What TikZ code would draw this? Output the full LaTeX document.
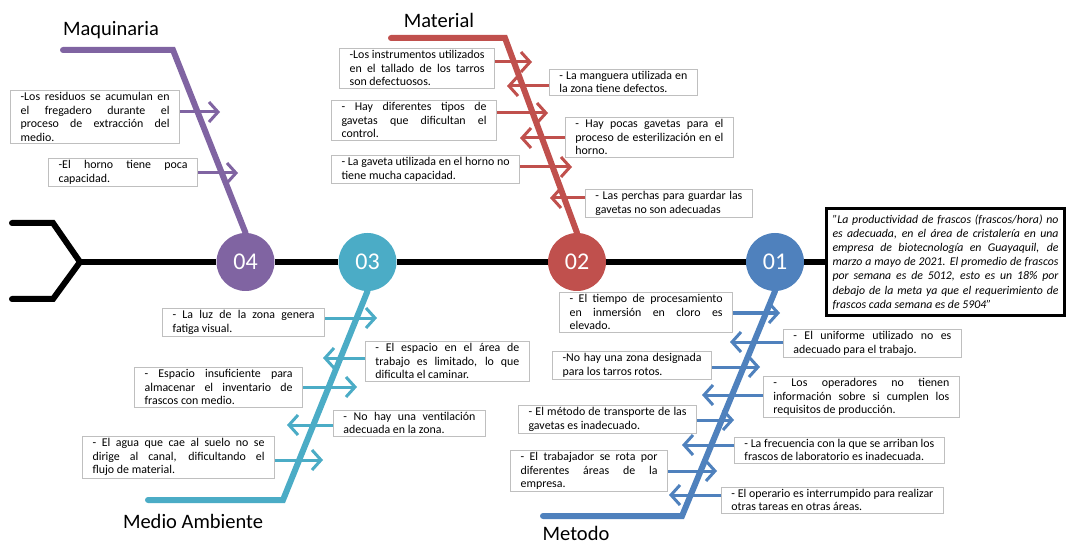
\documentclass[tikz,border=0pt]{standalone}
\usepackage{fontspec}
\setmainfont{Carlito}
\usetikzlibrary{arrows.meta}
\hyphenpenalty=10000
\exhyphenpenalty=10000
\tolerance=9999
\definecolor{maq}{HTML}{8064A2}
\definecolor{mat}{HTML}{C0504D}
\definecolor{amb}{HTML}{4BACC6}
\definecolor{met}{HTML}{4F81BD}
\pgfdeclarelayer{fondo}
\pgfsetlayers{fondo,main}
\tikzset{
	causa/.style={draw=black!25, fill=white, text=black, line width=0.8pt, inner xsep=10pt, inner ysep=2pt, align=justify, font=\fontsize{11.9}{13.8}\selectfont},
	problema/.style={draw=black, fill=white, text=black, line width=3pt, text width=226pt, inner xsep=6pt, inner ysep=6pt, align=justify, font=\itshape\fontsize{11.8}{14.2}\selectfont},
	hueso/.style={line width=6pt, line cap=round},
	flecha/.style={line width=3pt, -{Straight Barb[length=9pt,width=20pt]}},
	circulo/.style={circle, minimum size=58pt, inner sep=0pt, text=white, font=\fontsize{24}{28}\selectfont},
	titulo/.style={text=black, inner sep=0pt, font=\fontsize{20.5}{24}\selectfont}
}
% flecha desde la caja #1 (lado #2) hasta la punta (#3,#4)
\newcommand\flecha[4]{\coordinate (#1f) at (#3,#4); \draw[flecha] (#1.#2 |- #1f) -- (#1f);}

\begin{document}
\begin{tikzpicture}[x=1pt, y=-1pt]
			\useasboundingbox (0,0) rectangle (1068,545);
			
			%%%%% ESPINA %%%%%
			
			\node[circulo, fill=maq] (c4) at (245.5,262) {04};
			\node[circulo, fill=amb] (c3) at (367.5,262) {03};
			\node[circulo, fill=mat] (c2) at (577,262) {02};
			\node[circulo, fill=met] (c1) at (775,262) {01};
			
			\node[problema] (prob) at (945.5,262) {"La productividad de frascos (frascos/hora) no\linebreak es adecuada, en el área de cristalería en una\linebreak empresa de biotecnología en Guayaquil, de\linebreak marzo a mayo de 2021. El promedio de frascos\linebreak por semana es de 5012, esto es un 18\% por\linebreak debajo de la meta ya que el requerimiento de\linebreak frascos cada semana es de 5904"};
			
			\coordinate (cola) at (80,262);
			\begin{pgfonlayer}{fondo}
				\draw[line width=6pt, line cap=round] (12,223) -- (53,223) -- (cola) -- (53,299) -- (12,299);
				\draw[line width=6pt] (cola) -- (c4) -- (c3) -- (c2) -- (c1) -- (prob);
			\end{pgfonlayer}
			
			%%%%% MAQUINARIA %%%%%
			\begin{scope}[maq]
				\node[titulo] (tmaq) at (111,30) {Maquinaria};
				\coordinate (maqA) at (63,50);
				\coordinate (maqB) at (173,50);
				\begin{pgfonlayer}{fondo}
					\draw[hueso, maq] (maqA) -- (maqB) -- (c4.north);
				\end{pgfonlayer}
				
				\node[causa, text width=149pt, anchor=east] (q1) at (180,117) {-Los residuos se acumulan en\linebreak el fregadero durante el\linebreak proceso de extracción del\linebreak medio.};
				\flecha{q1}{east}{220}{112}
				\node[causa, text width=129pt, anchor=east] (q2) at (198,172) {-El horno tiene poca\linebreak capacidad.};
				\flecha{q2}{east}{238}{173}
			\end{scope}
			
			%%%%% MATERIAL %%%%%
			\begin{scope}[mat]
				\node[titulo] (tmat) at (439,20) {Material};
				\coordinate (matA) at (391,38);
				\coordinate (matB) at (505,38);
				\begin{pgfonlayer}{fondo}
					\draw[hueso, mat] (matA) -- (matB) -- (c2.north);
				\end{pgfonlayer}
				
				\node[causa, text width=135pt, anchor=east] (a1) at (495,68) {-Los instrumentos utilizados\linebreak en el tallado de los tarros\linebreak son defectuosos.};
				\flecha{a1}{east}{532}{62}
				\node[causa, text width=128pt, anchor=west] (a2) at (549,82) {- La manguera utilizada en\linebreak la zona tiene defectos.};
				\flecha{a2}{west}{507}{86}
				\node[causa, text width=145pt, anchor=east] (a3) at (497,120) {- Hay diferentes tipos de\linebreak gavetas que dificultan el\linebreak control.};
				\flecha{a3}{east}{548}{113}
				\node[causa, text width=148pt, anchor=west] (a4) at (565,137) {- Hay pocas gavetas para el\linebreak proceso de esterilización en el\linebreak horno.};
				\flecha{a4}{west}{520}{138}
				\node[causa, text width=168pt, anchor=east] (a5) at (520,169) {- La gaveta utilizada en el horno no\linebreak tiene mucha capacidad.};
				\flecha{a5}{east}{572}{167}
				\node[causa, text width=147pt, anchor=west] (a6) at (585,203) {- Las perchas para guardar las\linebreak gavetas no son adecuadas};
				\flecha{a6}{west}{550}{198}
			\end{scope}
			
			%%%%% MEDIO AMBIENTE %%%%%
			\begin{scope}[amb]
				\node[titulo] (tamb) at (193,521) {Medio Ambiente};
				\coordinate (ambA) at (148,500);
				\coordinate (ambB) at (283,500);
				\begin{pgfonlayer}{fondo}
					\draw[hueso, amb] (ambA) -- (ambB) -- (c3.south);
				\end{pgfonlayer}
				
				\node[causa, text width=142pt, anchor=east] (m1) at (325,322) {- La luz de la zona genera\linebreak fatiga visual.};
				\flecha{m1}{east}{377}{318}
				\node[causa, text width=144pt, anchor=west] (m2) at (365,361) {- El espacio en el área de\linebreak trabajo es limitado, lo que\linebreak dificulta el caminar.};
				\flecha{m2}{west}{323}{358}
				\node[causa, text width=148pt, anchor=east] (m3) at (303,387) {- Espacio insuficiente para\linebreak almacenar el inventario de\linebreak frascos con medio.};
				\flecha{m3}{east}{357}{387}
				\node[causa, text width=132pt, anchor=west] (m4) at (333,423) {- No hay una ventilación\linebreak adecuada en la zona.};
				\flecha{m4}{west}{287}{425}
				\node[causa, text width=172pt, anchor=east] (m5) at (275,457) {- El agua que cae al suelo no se\linebreak dirige al canal, dificultando el\linebreak flujo de material.};
				\flecha{m5}{east}{323}{460}
			\end{scope}
			
			%%%%% METODO %%%%%
			\begin{scope}[met]
				\node[titulo] (tmet) at (576,533) {Metodo};
				\coordinate (metA) at (543,516);
				\coordinate (metB) at (682,516);
				\begin{pgfonlayer}{fondo}
					\draw[hueso, met] (metA) -- (metB) -- (c1.south);
				\end{pgfonlayer}
				
				\node[causa, text width=153pt, anchor=east] (t1) at (733,312) {- El tiempo de procesamiento\linebreak en inmersión en cloro es\linebreak elevado.};
				\flecha{t1}{east}{780}{313}
				\node[causa, text width=158pt, anchor=west] (t2) at (783,343) {- El uniforme utilizado no es\linebreak adecuado para el trabajo.};
				\flecha{t2}{west}{730}{342}
				\node[causa, text width=139pt, anchor=east] (t3) at (712,365) {-No hay una zona designada\linebreak para los tarros rotos.};
				\flecha{t3}{east}{760}{367}
				\node[causa, text width=176pt, anchor=west] (t4) at (763,397) {- Los operadores no tienen\linebreak información sobre si cumplen los\linebreak requisitos de producción.};
				\flecha{t4}{west}{702}{395}
				\node[causa, text width=158pt, anchor=east] (t5) at (697,419) {- El método de transporte de las\linebreak gavetas es inadecuado.};
				\flecha{t5}{east}{734}{420}
				\node[causa, text width=190pt, anchor=west] (t6) at (734,450) {- La frecuencia con la que se arriban los\linebreak frascos de laboratorio es inadecuada.};
				\flecha{t6}{west}{682}{445}
				\node[causa, text width=137pt, anchor=east] (t7) at (668,471) {- El trabajador se rota por\linebreak diferentes áreas de la\linebreak empresa.};
				\flecha{t7}{east}{717}{471}
				\node[causa, text width=202pt, anchor=west] (t8) at (721,500) {- El operario es interrumpido para realizar\linebreak otras tareas en otras áreas.};
				\flecha{t8}{west}{669}{495}
			\end{scope}
			
			%%%%% FIN %%%%%
		\end{tikzpicture}
\end{document}
